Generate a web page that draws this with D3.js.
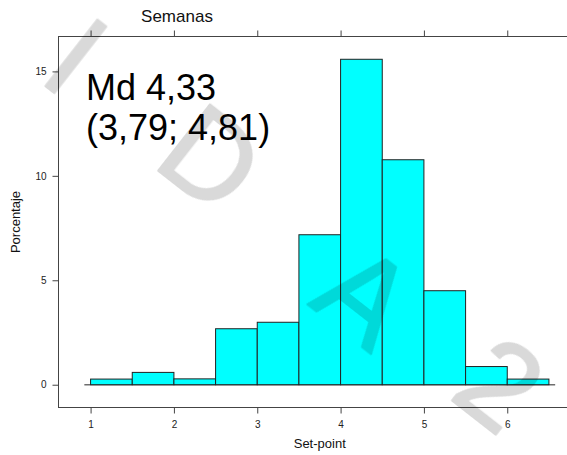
<!DOCTYPE html>
<html>
<head>
<meta charset="utf-8">
<script src="https://cdn.jsdelivr.net/npm/d3@7"></script>
<style>
  html, body { margin: 0; padding: 0; background: #fff; }
  svg { display: block; font-family: "Liberation Sans", Arial, Helvetica, sans-serif; }
</style>
</head>
<body>
<script>
// ---- data ----
const binStarts = [1, 1.5, 2, 2.5, 3, 3.5, 4, 4.5, 5, 5.5, 6];
const binWidth = 0.5;
const percentValues = [0.27, 0.59, 0.28, 2.68, 2.99, 7.18, 15.58, 10.77, 4.5, 0.87, 0.27];
const xTickValues = [1, 2, 3, 4, 5, 6];
const yTickValues = [0, 5, 10, 15];
const titleText = "Semanas";
const xLabel = "Set-point";
const yLabel = "Porcentaje";
const annotationLines = ["Md 4,33", "(3,79; 4,81)"];
const watermarkLetters = ["I", "D", "A", "2"];

// ---- layout ----
const W = 567, H = 455;
const panel = { left: 58.5, top: 36.5, bottom: 407.5, right: 581 };

const svg = d3.select("body").append("svg").attr("width", W).attr("height", H);

const xMin = d3.min(binStarts), xMax = d3.max(binStarts) + binWidth;
const xPad = 0.07 * (xMax - xMin);
const yMaxV = d3.max(percentValues);
const yPad = 0.07 * yMaxV;

const x = d3.scaleLinear().domain([xMin - xPad, xMax + xPad]).range([panel.left, panel.right]);
const y = d3.scaleLinear().domain([-yPad, yMaxV + yPad]).range([panel.bottom, panel.top]);

const bars = binStarts.map((s, i) => ({ x0: s, x1: s + binWidth, v: percentValues[i] }));

// baseline reference line
svg.append("line")
  .attr("x1", x(xMin - 0.075)).attr("x2", x(xMax + 0.075))
  .attr("y1", y(0)).attr("y2", y(0))
  .attr("stroke", "#6e6e6e").attr("stroke-width", 1.4);

// bars
svg.append("g").selectAll("rect").data(bars).join("rect")
  .attr("x", d => x(d.x0))
  .attr("width", d => x(d.x1) - x(d.x0))
  .attr("y", d => y(d.v))
  .attr("height", d => y(0) - y(d.v))
  .attr("fill", "#00ffff")
  .attr("stroke", "#222")
  .attr("stroke-width", 1);

// panel border
svg.append("rect")
  .attr("x", panel.left).attr("y", panel.top)
  .attr("width", panel.right - panel.left).attr("height", panel.bottom - panel.top)
  .attr("fill", "none").attr("stroke", "#444").attr("stroke-width", 1);

// axes
const tickStyle = g => {
  g.select(".domain").remove();
  g.selectAll(".tick line").attr("stroke", "#444");
  g.selectAll(".tick text").attr("fill", "#222").style("font-size", "10px")
    .style("font-family", "'Liberation Sans', Arial, sans-serif");
};

svg.append("g").attr("transform", `translate(0,${panel.bottom})`)
  .call(d3.axisBottom(x).tickValues(xTickValues).tickFormat(d3.format("d")).tickSizeOuter(0).tickSize(6).tickPadding(7))
  .call(tickStyle);

svg.append("g").attr("transform", `translate(0,${panel.top})`)
  .call(d3.axisTop(x).tickValues(xTickValues).tickFormat("").tickSizeOuter(0).tickSize(6))
  .call(tickStyle);

svg.append("g").attr("transform", `translate(${panel.left},0)`)
  .call(d3.axisLeft(y).tickValues(yTickValues).tickFormat(d3.format("d")).tickSizeOuter(0).tickSize(6).tickPadding(6))
  .call(tickStyle);

// titles
svg.append("text").attr("x", 177).attr("y", 22).attr("text-anchor", "middle")
  .style("font-size", "17px").attr("fill", "#111").text(titleText);

svg.append("text").attr("x", (panel.left + panel.right) / 2).attr("y", 448).attr("text-anchor", "middle")
  .style("font-size", "13px").attr("fill", "#111").text(xLabel);

svg.append("text").attr("transform", `translate(19.5,${(panel.top + panel.bottom) / 2}) rotate(-90)`)
  .attr("text-anchor", "middle").style("font-size", "13px").attr("fill", "#111").text(yLabel);

// annotation
svg.append("g").selectAll("text").data(annotationLines).join("text")
  .attr("x", 86).attr("y", (d, i) => 100 + i * 40)
  .style("font-size", "36px").attr("fill", "#000").text(d => d);

// watermark
const wmCenters = [[77, 55], [212, 157], [366, 295], [501, 383]];
const wm = svg.append("g").attr("opacity", 0.15);
wm.selectAll("text").data(watermarkLetters).join("text")
  .attr("transform", (d, i) => `translate(${wmCenters[i][0]},${wmCenters[i][1]}) rotate(38)`)
  .attr("y", 0.36 * 122)
  .attr("text-anchor", "middle")
  .style("font-size", "122px")
  .attr("fill", "#000").attr("stroke", "#000").attr("stroke-width", 2).attr("stroke-linejoin", "round")
  .text(d => d);
</script>
</body>
</html>
